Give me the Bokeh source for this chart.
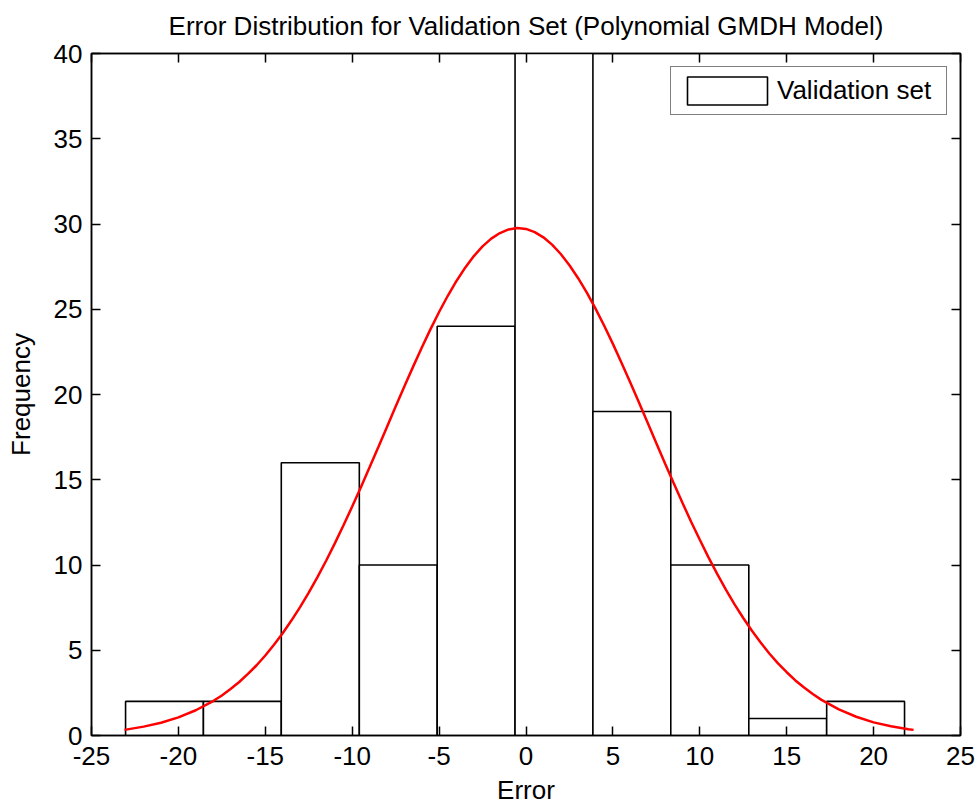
from bokeh.plotting import figure
from bokeh.models import (Range1d, LinearAxis, FixedTicker, CustomJSTickFormatter,
                          Legend, LegendItem)
from bokeh.embed import file_html
from bokeh.resources import INLINE

# ---- data ----
bin_edges = [-23.04, -18.56, -14.08, -9.59, -5.11, -0.63, 3.85, 8.33, 12.82, 17.30, 21.78]
counts = [2, 2, 16, 10, 24, 46, 19, 10, 1, 2]

curve_x = [-23.1, -22, -21, -20, -19, -18,
           -17.5, -17, -16.5, -16, -15.5, -15, -14.5, -14, -13.5, -13, -12.5, -12,
           -11.5, -11, -10.5, -10, -9.5, -9, -8.5, -8, -7.5, -7, -6.5, -6, -5.5, -5,
           -4.5, -4, -3.5, -3, -2.5, -2, -1.5, -1, -0.5,
           0, 0.5, 1, 1.5, 2, 2.5, 3, 3.5, 4, 4.5, 5, 5.5, 6, 6.5, 7, 7.5, 8, 8.5,
           9, 9.5, 10, 10.5, 11, 11.5, 12, 12.5, 13, 13.5, 14, 14.5, 15, 15.5, 16, 16.5,
           17, 18, 19, 20, 21, 22, 22.3]
curve_y = [0.33, 0.52, 0.75, 1.06, 1.48, 2.02,
           2.35, 2.73, 3.14, 3.61, 4.12, 4.69, 5.32, 6.00, 6.74, 7.53, 8.38, 9.29,
           10.25, 11.27, 12.33, 13.43, 14.56, 15.73, 16.91, 18.10, 19.29, 20.47, 21.62, 22.74,
           23.82, 24.84, 25.79, 26.66, 27.44, 28.12, 28.69, 29.14, 29.47, 29.68, 29.76,
           29.71, 29.52, 29.22, 28.79, 28.24, 27.58, 26.82, 25.97, 25.04, 24.03, 22.97, 21.85,
           20.70, 19.53, 18.34, 17.14, 15.96, 14.79, 13.65, 12.54, 11.48, 10.45, 9.48, 8.56,
           7.69, 6.89, 6.14, 5.45, 4.81, 4.23, 3.71, 3.23, 2.81, 2.43,
           2.09, 1.53, 1.10, 0.77, 0.54, 0.37, 0.33]

x_ticks = [-25, -20, -15, -10, -5, 0, 5, 10, 15, 20, 25]
y_ticks = [0, 5, 10, 15, 20, 25, 30, 35, 40]

title_text = "Error Distribution for Validation Set (Polynomial GMDH Model)"
x_label = "Error"
y_label = "Frequency"
legend_label = "Validation set"

FONT = "Liberation Sans"
FS = "26px"

p = figure(width=979, height=807, x_range=Range1d(-25, 25), y_range=Range1d(0, 40),
           output_backend="svg", toolbar_location=None, title=title_text,
           min_border_left=91, min_border_right=19, min_border_top=0, min_border_bottom=69)

p.background_fill_color = "white"
p.border_fill_color = "white"
p.outline_line_color = "black"
p.outline_line_width = 1.5
p.xgrid.visible = False
p.ygrid.visible = False

p.title.text_font = FONT
p.title.text_font_size = FS
p.title.text_font_style = "normal"
p.title.text_color = "black"
p.title.align = "center"
p.title.vertical_align = "top"
p.title.standoff = 21

bars = p.quad(left=bin_edges[:-1], right=bin_edges[1:], bottom=0, top=counts,
              fill_color="white", line_color="black", line_width=1.6)
p.line(curve_x, curve_y, line_color="red", line_width=2.5)

def style_axis(ax, ticks, show_labels=True):
    ax.ticker = FixedTicker(ticks=ticks)
    ax.major_tick_in = 9
    ax.major_tick_out = 0
    ax.minor_tick_line_color = None
    ax.axis_line_color = "black"
    ax.axis_line_width = 1.5
    ax.major_tick_line_color = "black"
    ax.major_tick_line_width = 1.5
    ax.major_label_text_font = FONT
    ax.major_label_text_font_size = FS
    ax.major_label_text_color = "black"
    ax.axis_label_text_font = FONT
    ax.axis_label_text_font_size = FS
    ax.axis_label_text_font_style = "normal"
    ax.axis_label_text_color = "black"
    if show_labels:
        ax.formatter = CustomJSTickFormatter(code="return tick.toString()")
    else:
        ax.formatter = CustomJSTickFormatter(code="return ''")
        ax.major_label_text_font_size = "1px"
        ax.major_label_standoff = 0

style_axis(p.xaxis[0], x_ticks)
style_axis(p.yaxis[0], y_ticks)
p.xaxis.axis_label = x_label
p.yaxis.axis_label = y_label
p.xaxis.major_label_standoff = 11
p.xaxis.axis_label_standoff = 7
p.yaxis.major_label_standoff = 9
p.yaxis.axis_label_standoff = 15

ax_top = LinearAxis()
style_axis(ax_top, x_ticks, show_labels=False)
p.add_layout(ax_top, "above")
ax_right = LinearAxis()
style_axis(ax_right, y_ticks, show_labels=False)
p.add_layout(ax_right, "right")

legend = Legend(items=[LegendItem(label=legend_label, renderers=[bars])],
                location="top_right", margin=13, padding=6, spacing=0,
                glyph_width=100, glyph_height=35, label_standoff=0, label_width=163,
                border_line_color="black", border_line_width=1.5,
                background_fill_color="white", background_fill_alpha=1.0,
                label_text_font=FONT, label_text_font_size=FS, label_text_color="black")
p.add_layout(legend)

open("out.html", "w").write(file_html(p, INLINE))
